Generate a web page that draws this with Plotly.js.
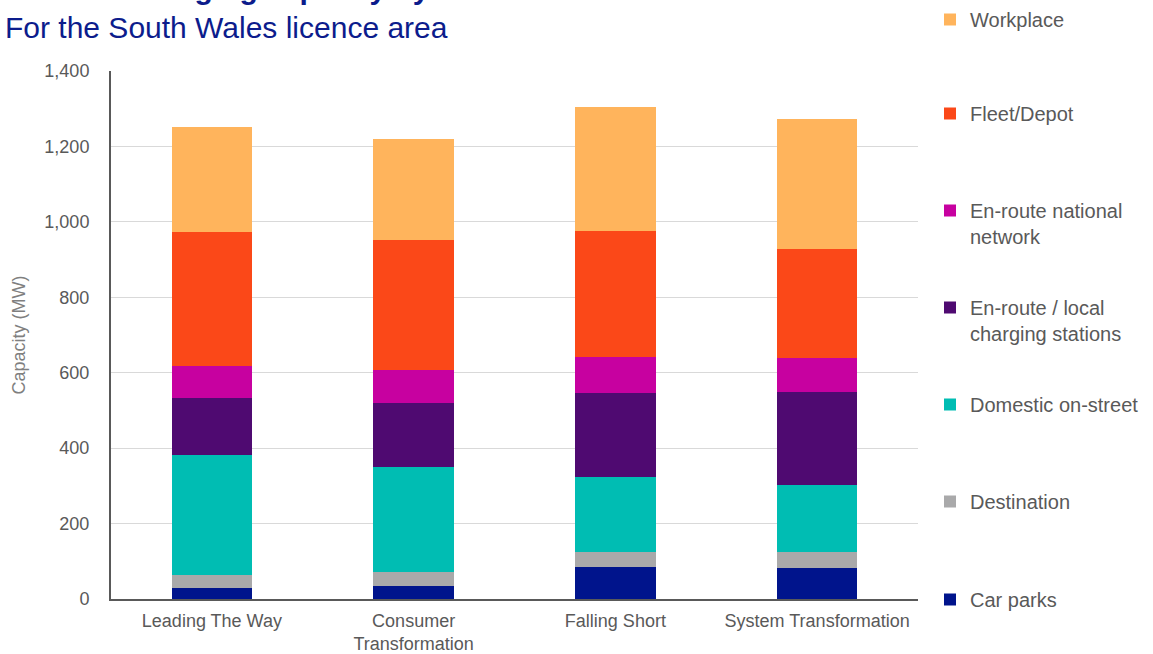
<!DOCTYPE html>
<html>
<head>
<meta charset="utf-8">
<script src="https://cdn.plot.ly/plotly-3.0.1.min.js"></script>
<style>
html, body { margin: 0; padding: 0; background: #ffffff; }
#chart { width: 1153px; height: 654px; }
</style>
</head>
<body>
<div id="chart"></div>
<script>
// Scenarios (x categories)
const scenarios = ["Leading The Way", "Consumer<br>Transformation", "Falling Short", "System Transformation"];

// Series values (MW), bottom to top of each stack
const carParks        = [29, 34, 85, 82];
const destination     = [35, 38, 39, 42];
const domesticStreet  = [318, 277, 199, 177];
const enrouteLocal    = [150, 170, 222, 247];
const enrouteNational = [85, 89, 97, 92];
const fleetDepot      = [356, 343, 334, 289];
const workplace       = [278, 270, 329, 343];

// Series names (legend labels)
const seriesNames = [
  "Car parks",
  "Destination",
  "Domestic on-street",
  "En-route / local<br>charging stations",
  "En-route national<br>network",
  "Fleet/Depot",
  "Workplace"
];
const seriesValues = [carParks, destination, domesticStreet, enrouteLocal, enrouteNational, fleetDepot, workplace];
const seriesColors = ["#00148C", "#A9A9AA", "#00BDB3", "#4F0A71", "#C701A0", "#FB4818", "#FFB45C"];

// Legend first-line centre (px from top) for each series
const legendCentersPx = [599, 501, 404, 307, 210, 113, 14];

const FONT = "Liberation Sans, Arial, sans-serif";
const W = 1153, H = 654;

const traces = seriesNames.map((name, i) => ({
  type: "bar",
  name: name,
  x: scenarios,
  y: seriesValues[i],
  marker: { color: seriesColors[i], line: { width: 0 } },
  legend: i === 0 ? "legend" : "legend" + (i + 1),
  hovertemplate: "%{x}<br>" + name + ": %{y} MW<extra></extra>"
}));

const layout = {
  width: W,
  height: H,
  barmode: "stack",
  bargap: 0.6,
  paper_bgcolor: "#ffffff",
  plot_bgcolor: "#ffffff",
  margin: { l: 111, r: 235, t: 71, b: 55, pad: 0 },
  font: { family: FONT, color: "#595959", size: 18 },
  title: {
    text: "<b>Total EV charging capacity by 2050</b><br>For the South Wales licence area",
    font: { family: FONT, size: 30, color: "#0C1C8C" },
    xref: "container",
    x: 5 / W,
    xanchor: "left",
    yref: "container",
    y: 1,
    yanchor: "top",
    pad: { t: -1 }
  },
  xaxis: {
    type: "category",
    showgrid: false,
    showline: true,
    linecolor: "#595959",
    linewidth: 2,
    ticks: "",
    tickfont: { family: FONT, size: 18, color: "#595959" },
    ticklabelstandoff: 4,
    zeroline: false
  },
  yaxis: {
    range: [0, 1400],
    dtick: 200,
    tick0: 0,
    tickformat: ",d",
    showgrid: true,
    gridcolor: "#D9D9D9",
    gridwidth: 1,
    showline: true,
    linecolor: "#595959",
    linewidth: 2,
    ticks: "",
    ticklabelstandoff: 16,
    tickfont: { family: FONT, size: 18, color: "#595959" },
    zeroline: false,
    title: {
      text: "Capacity (MW)",
      font: { family: FONT, size: 18, color: "#7F7F7F" },
      standoff: 14
    }
  },
  showlegend: true
};

// One legend per series so each entry can sit at its own height
seriesNames.forEach((name, i) => {
  const key = i === 0 ? "legend" : "legend" + (i + 1);
  layout[key] = {
    xref: "container",
    yref: "container",
    x: 930 / W,
    xanchor: "left",
    y: 1 - (legendCentersPx[i] - 19) / H,
    yanchor: "top",
    valign: "top",
    bgcolor: "rgba(0,0,0,0)",
    borderwidth: 0,
    font: { family: FONT, size: 20, color: "#595959" },
    itemclick: false,
    itemdoubleclick: false
  };
});

Plotly.newPlot("chart", traces, layout, { displayModeBar: false, responsive: false });
</script>
</body>
</html>
